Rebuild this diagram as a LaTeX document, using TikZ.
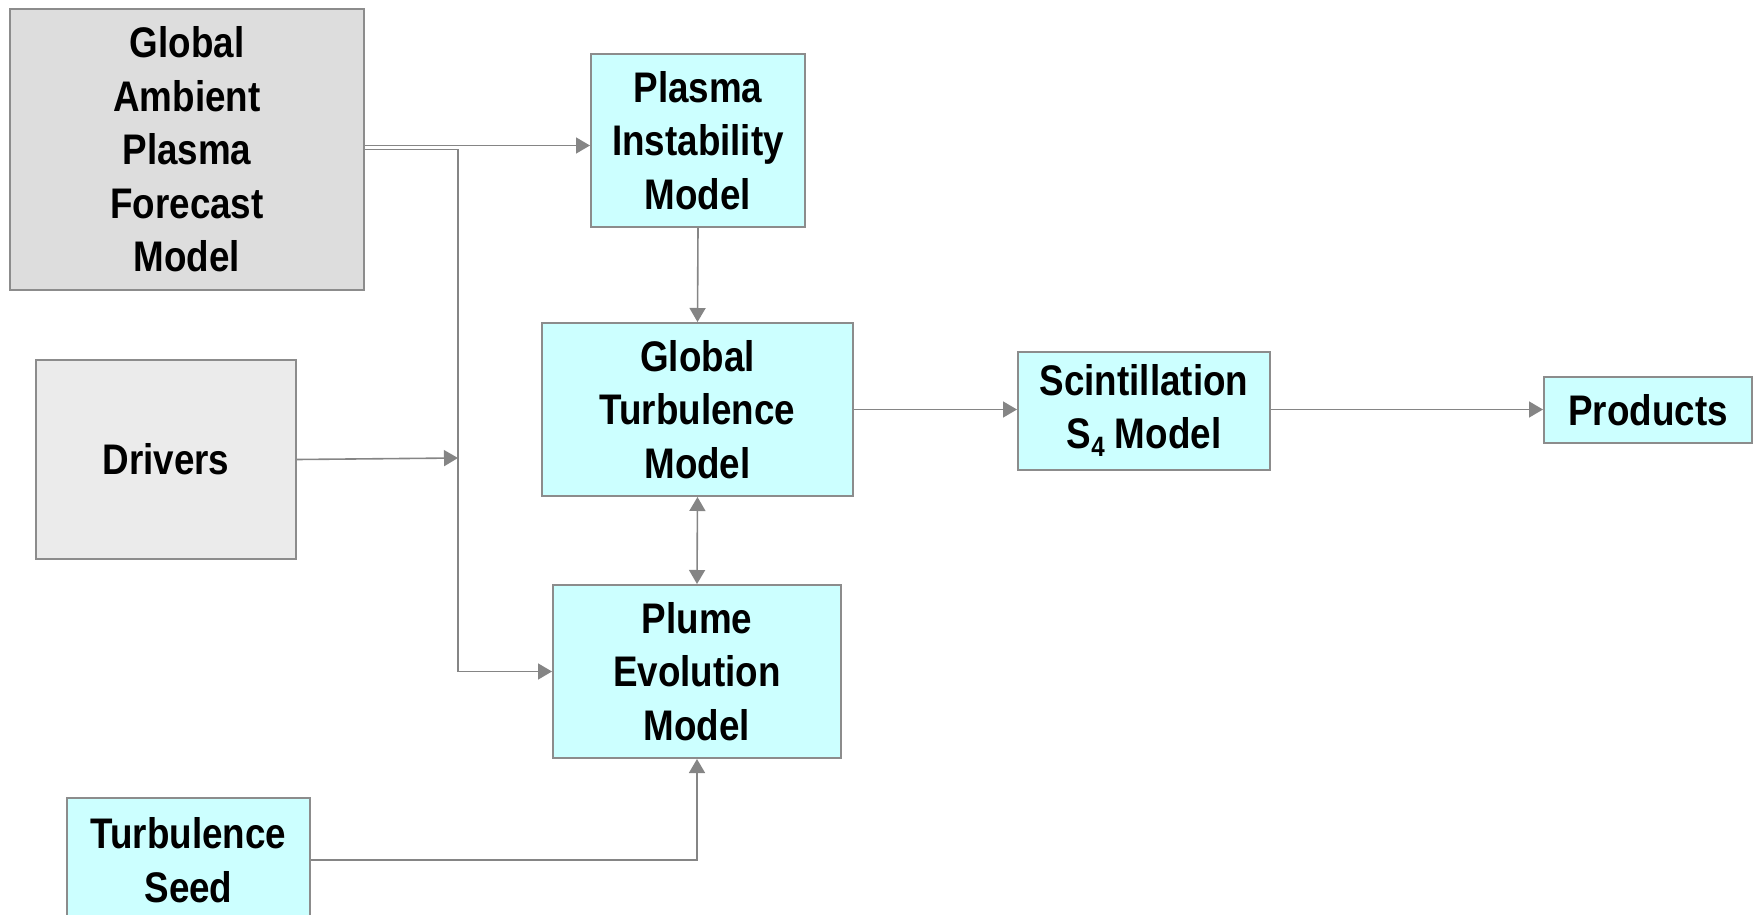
\documentclass[tikz,border=0pt]{standalone}
\usepackage{fontspec}
\setmainfont{Liberation Sans}[FakeStretch=0.86]
\usetikzlibrary{arrows.meta, positioning}

\definecolor{boxline}{HTML}{8C8C8C}
\definecolor{arrline}{HTML}{858585}
\definecolor{cyanfill}{HTML}{CCFFFF}
\definecolor{grayfill}{HTML}{DDDDDD}
\definecolor{lightfill}{HTML}{EBEBEB}

\newcommand{\lowsub}[1]{\raisebox{-4pt}{\fontsize{14}{14}\selectfont #1}}

\tikzset{
  model/.style={draw=boxline, line width=1pt, fill=cyanfill, align=center,
    inner sep=0pt, font=\fontsize{21.4}{26.8}\selectfont\bfseries},
  source/.style={model, fill=grayfill},
  line/.style={draw=arrline, line width=0.8pt},
  arr/.style={line, -{Triangle[length=7pt, width=8pt]}},
  darr/.style={line, {Triangle[length=7pt, width=8pt]}-{Triangle[length=7pt, width=8pt]}}
}

\begin{document}
\begin{tikzpicture}[x=0.5pt, y=-0.5pt]
\useasboundingbox (0,0) rectangle (1753,915);

% inputs
\node[source, minimum width=177pt, minimum height=140.5pt] (gapfm) at (187,149.5)
  {Global\\Ambient\\Plasma\\Forecast\\Model};
\node[source, fill=lightfill, minimum width=130pt, minimum height=99.5pt] (drv) at (166,459.5)
  {Drivers};
\node[model, minimum width=121.5pt, minimum height=62pt] (seed) at (188.5,860)
  {Turbulence\\Seed};

% models
\node[model, minimum width=107pt, minimum height=86.5pt] (pim) at (698,140.5)
  {Plasma\\Instability\\Model};
\node[model, minimum width=155.5pt, minimum height=86.5pt] (gtm) at (697.5,409.5)
  {Global\\Turbulence\\Model};
\node[model, minimum width=144pt, minimum height=86.5pt] (pem) at (697,671.5)
  {Plume\\Evolution\\Model};
\node[model, minimum width=126pt, minimum height=59pt] (scm) at (1144,410.5)
  {Scintillation\\S\lowsub{4} Model};
\node[model, minimum width=104pt, minimum height=33pt] (prod) at (1648,410)
  {Products};

% connectors
\coordinate (jn) at (458,458);
\draw[arr] ([yshift=2pt]gapfm.east) -- ([yshift=2pt]gapfm.east -| pim.west);
\draw[arr] (gapfm.east) -| (jn) |- (pem.west);
\draw[arr] (drv.east) -- (jn);
\draw[arr] (pim.south) -- (gtm.north);
\draw[darr] (gtm.south) -- (pem.north);
\draw[arr] (gtm.east) -- (gtm.east -| scm.west);
\draw[arr] (gtm.east -| scm.east) -- (gtm.east -| prod.west);
\draw[arr] (seed.east) -| (pem.south);
\end{tikzpicture}
\end{document}
